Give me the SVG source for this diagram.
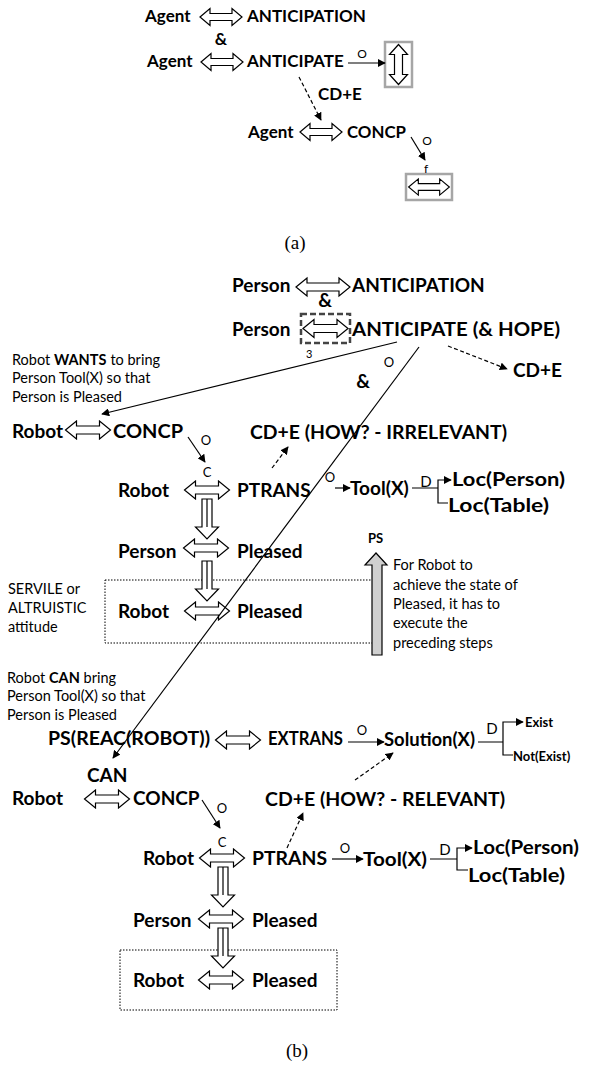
<svg xmlns="http://www.w3.org/2000/svg" xmlns:xlink="http://www.w3.org/1999/xlink" width="590" height="1066" viewBox="0 0 590 1066">
<style>
.b{font-family:Lato,"Liberation Sans",sans-serif;font-weight:bold;fill:#000}
.ba{font-size:17px}
.bb{font-size:19px}
.r{font-family:Lato,"Liberation Sans",sans-serif;font-weight:normal;fill:#000}
.note{font-size:14.5px}
.sm{font-size:13px}
.cap{font-family:"Liberation Serif",serif;font-size:19px;fill:#000}
.dbl{fill:#fff;stroke:#000;stroke-width:1.2;stroke-linejoin:miter}
.ln{fill:none;stroke:#000;stroke-width:1.2}
.dash{fill:none;stroke:#000;stroke-width:1.2;stroke-dasharray:4,2.5}
.dot{fill:none;stroke:#000;stroke-width:1;stroke-dasharray:1.5,1.5}
.gbox{fill:#fff;stroke:#a6a6a6;stroke-width:2.5}
</style>
<defs>
<marker id="ah" viewBox="0 0 10 10" refX="9" refY="5" markerWidth="8" markerHeight="8" markerUnits="userSpaceOnUse" orient="auto">
<path d="M0,0 L10,5 L0,10 Z" fill="#000"/>
</marker>
<path id="d45" class="dbl" d="M-22.5,0 L-11.5,-9 L-11.5,-4 L11.5,-4 L11.5,-9 L22.5,0 L11.5,9 L11.5,4 L-11.5,4 L-11.5,9 Z"/>
<path id="d42" class="dbl" d="M-21,0 L-11,-8.5 L-11,-3.5 L11,-3.5 L11,-8.5 L21,0 L11,8.5 L11,3.5 L-11,3.5 L-11,8.5 Z"/>
<path id="d54" class="dbl" d="M-27,0 L-16,-9 L-16,-4 L16,-4 L16,-9 L27,0 L16,9 L16,4 L-16,4 L-16,9 Z"/>
<path id="v40" class="dbl" d="M0,-20 L9,-10 L4,-10 L4,10 L9,10 L0,20 L-9,10 L-4,10 L-4,-10 L-9,-10 Z"/>
<path id="down" class="dbl" d="M-5,0 H5 V28 H11.5 L0,40 L-11.5,28 H-5 Z M0,0 V28"/>
</defs>

<!-- (a) -->
<g id="a-agent1">
<text class="b ba" x="145" y="22">Agent</text>
<use xlink:href="#d42" transform="translate(221,17)"/>
<text class="b ba" x="247" y="22">ANTICIPATION</text>
</g>
<g id="a-and"><text class="b ba" x="221" y="45" text-anchor="middle">&amp;</text></g>
<g id="a-agent2">
<text class="b ba" x="147" y="67">Agent</text>
<use xlink:href="#d42" transform="translate(222,62)"/>
<text class="b ba" x="247" y="67">ANTICIPATE</text>
</g>
<g id="a-box1">
<rect class="gbox" x="385" y="42" width="27" height="45"/>
<use xlink:href="#v40" transform="translate(398.5,64.5)"/>
</g>
<g id="a-cde"><text class="b ba" x="318" y="100">CD+E</text></g>
<g id="a-agent3">
<text class="b ba" x="248" y="138">Agent</text>
<use xlink:href="#d42" transform="translate(321,132)"/>
<text class="b ba" x="347" y="138" textLength="59" lengthAdjust="spacingAndGlyphs">CONCP</text>
</g>
<g id="a-box2">
<rect class="gbox" x="406" y="174" width="46" height="26"/>
<use xlink:href="#d42" transform="translate(429,187) scale(0.97,0.95)"/>
</g>
<g id="a-labels">
<text class="r" font-size="12" x="362" y="58" text-anchor="middle">O</text>
<text class="r" font-size="12" x="427" y="145" text-anchor="middle">O</text>
<text class="r" font-size="12" x="426" y="173" text-anchor="middle">f</text>
</g>
<text class="cap" x="295" y="249" text-anchor="middle">(a)</text>

<!-- (b) top -->
<g id="b-person1">
<text class="b bb" x="232" y="292">Person</text>
<use xlink:href="#d54" transform="translate(323,287)"/>
<text class="b bb" x="352" y="292">ANTICIPATION</text>
</g>
<g id="b-and1"><text class="b bb" x="325" y="307" text-anchor="middle">&amp;</text></g>
<g id="b-person2">
<text class="b bb" x="232" y="336">Person</text>
<rect x="301" y="314" width="49" height="29" fill="none" stroke="#444" stroke-width="2.5" stroke-dasharray="6,3"/>
<use xlink:href="#d45" transform="translate(325.5,328.5)"/>
<text class="b bb" x="352" y="336" textLength="208" lengthAdjust="spacingAndGlyphs">ANTICIPATE (&amp; HOPE)</text>
<text class="r" font-size="11" x="306" y="358">3</text>
</g>
<g id="b-cde1"><text class="b bb" x="513" y="377">CD+E</text></g>
<g id="b-and2"><text class="b bb" x="363" y="388" text-anchor="middle">&amp;</text></g>
<g id="b-wants">
<text class="r note" x="12" y="365">Robot <tspan font-weight="bold">WANTS</tspan><tspan dx="4">to bring</tspan></text>
<text class="r note" x="12" y="383">Person Tool(X) so that</text>
<text class="r note" x="12" y="402">Person is Pleased</text>
</g>
<g id="b-robot-concp1">
<text class="b bb" x="12" y="438">Robot</text>
<use xlink:href="#d45" transform="translate(88,430)"/>
<text class="b bb" x="113" y="438" textLength="70" lengthAdjust="spacingAndGlyphs">CONCP</text>
</g>
<g id="b-cde2"><text class="b bb" x="250" y="439" textLength="257" lengthAdjust="spacingAndGlyphs">CD+E (HOW? - IRRELEVANT)</text></g>
<g id="b-robot-ptrans1">
<text class="b bb" x="118" y="497">Robot</text>
<use xlink:href="#d45" transform="translate(207,490)"/>
<text class="b bb" x="237" y="497">PTRANS</text>
</g>
<g id="b-tool1">
<text class="b bb" x="350" y="495">Tool(X)</text>
<text class="b bb" x="452" y="486" textLength="113" lengthAdjust="spacingAndGlyphs">Loc(Person)</text>
<text class="b bb" x="448" y="512" textLength="101" lengthAdjust="spacingAndGlyphs">Loc(Table)</text>
</g>
<g id="b-person-pleased1">
<text class="b bb" x="118" y="558">Person</text>
<use xlink:href="#d45" transform="translate(206,548)"/>
<text class="b bb" x="237" y="558">Pleased</text>
</g>
<g id="b-robot-pleased1">
<rect class="dot" x="105" y="580" width="275" height="63"/>
<text class="b bb" x="118" y="618">Robot</text>
<use xlink:href="#d45" transform="translate(207,611)"/>
<text class="b bb" x="237" y="618">Pleased</text>
</g>
<g id="b-servile">
<text class="r note" x="8" y="594">SERVILE or</text>
<text class="r note" x="8" y="613">ALTRUISTIC</text>
<text class="r note" x="8" y="632">attitude</text>
</g>
<g id="b-ps">
<text class="b" font-size="13" x="368" y="543">PS</text>
<path d="M372,655 V565 H365 L376,553 L387,565 H382 V655 Z" fill="#d0d0d0" stroke="#000" stroke-width="1.2"/>
<text class="r note" x="393" y="570">For Robot to</text>
<text class="r note" x="393" y="590">achieve the state of</text>
<text class="r note" x="393" y="609">Pleased, it has to</text>
<text class="r note" x="393" y="628">execute the</text>
<text class="r note" x="393" y="648">preceding steps</text>
</g>

<!-- (b) bottom -->
<g id="b-can-note">
<text class="r note" x="7" y="683">Robot <tspan font-weight="bold">CAN</tspan> bring</text>
<text class="r note" x="7" y="701">Person Tool(X) so that</text>
<text class="r note" x="7" y="720">Person is Pleased</text>
</g>
<g id="b-ps-extrans">
<text class="b bb" x="48" y="745" textLength="162" lengthAdjust="spacingAndGlyphs">PS(REAC(ROBOT))</text>
<use xlink:href="#d45" transform="translate(238,740)"/>
<text class="b bb" x="268" y="745" textLength="75" lengthAdjust="spacingAndGlyphs">EXTRANS</text>
</g>
<g id="b-solution"><text class="b bb" x="384" y="746" textLength="91" lengthAdjust="spacingAndGlyphs">Solution(X)</text></g>
<g id="b-exist">
<text class="b" font-size="13" x="525" y="727">Exist</text>
<text class="b" font-size="13" x="513" y="761">Not(Exist)</text>
</g>
<g id="b-can"><text class="b bb" x="87" y="782">CAN</text></g>
<g id="b-robot-concp2">
<text class="b bb" x="12" y="805">Robot</text>
<use xlink:href="#d45" transform="translate(107,799)"/>
<text class="b bb" x="133" y="805">CONCP</text>
</g>
<g id="b-cde3"><text class="b bb" x="265" y="806" textLength="240" lengthAdjust="spacingAndGlyphs">CD+E (HOW? - RELEVANT)</text></g>
<g id="b-robot-ptrans2">
<text class="b bb" x="143" y="865">Robot</text>
<use xlink:href="#d45" transform="translate(222,858)"/>
<text class="b bb" x="252" y="865" textLength="75" lengthAdjust="spacingAndGlyphs">PTRANS</text>
</g>
<g id="b-tool2">
<text class="b bb" x="363" y="866" textLength="64" lengthAdjust="spacingAndGlyphs">Tool(X)</text>
<text class="b bb" x="473" y="854" textLength="106" lengthAdjust="spacingAndGlyphs">Loc(Person)</text>
<text class="b bb" x="468" y="882" textLength="97" lengthAdjust="spacingAndGlyphs">Loc(Table)</text>
</g>
<g id="b-person-pleased2">
<text class="b bb" x="133" y="927">Person</text>
<use xlink:href="#d45" transform="translate(221,919)"/>
<text class="b bb" x="252" y="927">Pleased</text>
</g>
<g id="b-robot-pleased2">
<rect class="dot" x="120" y="950" width="217" height="60"/>
<text class="b bb" x="133" y="987">Robot</text>
<use xlink:href="#d45" transform="translate(221,980)"/>
<text class="b bb" x="252" y="987">Pleased</text>
</g>
<text class="cap" x="297" y="1057" text-anchor="middle">(b)</text>

<g id="connectors">
<!-- (a) -->
<line class="ln" x1="348" y1="63" x2="385" y2="63" marker-end="url(#ah)"/>
<line class="dash" x1="299" y1="77" x2="321" y2="120" marker-end="url(#ah)"/>
<line class="ln" x1="411" y1="137" x2="425" y2="160" marker-end="url(#ah)"/>
<!-- (b) top -->
<line class="ln" x1="397" y1="342" x2="102" y2="414" marker-end="url(#ah)"/>
<line class="ln" x1="419" y1="347" x2="113" y2="758" marker-end="url(#ah)"/>
<line class="dash" x1="448" y1="346" x2="507" y2="369" marker-end="url(#ah)"/>
<line class="ln" x1="188" y1="437" x2="205" y2="462" marker-end="url(#ah)"/>
<line class="dash" x1="272" y1="468" x2="288" y2="447" marker-end="url(#ah)"/>
<line class="ln" x1="335" y1="488" x2="350" y2="488" marker-end="url(#ah)"/>
<path class="ln" d="M412,488 H438 M448,503 H438 V480 H451" marker-end="url(#ah)"/>
<use xlink:href="#down" transform="translate(207,499)"/>
<use xlink:href="#down" transform="translate(207,561)"/>
<!-- (b) bottom -->
<line class="ln" x1="348" y1="742" x2="384" y2="742" marker-end="url(#ah)"/>
<path class="ln" d="M478,742 H503 M513,755 H503 V722 H523" marker-end="url(#ah)"/>
<line class="dash" x1="355" y1="780" x2="393" y2="753" marker-end="url(#ah)"/>
<line class="ln" x1="202" y1="800" x2="220" y2="828" marker-end="url(#ah)"/>
<line class="dash" x1="287" y1="848" x2="303" y2="813" marker-end="url(#ah)"/>
<line class="ln" x1="332" y1="859" x2="363" y2="859" marker-end="url(#ah)"/>
<path class="ln" d="M430,859 H457 M468,870 H457 V848 H472" marker-end="url(#ah)"/>
<use xlink:href="#down" transform="translate(223,867)"/>
<use xlink:href="#down" transform="translate(223,928)"/>
</g>
<g id="edge-labels">
<text class="r sm" x="389" y="367" text-anchor="middle">O</text>
<text class="r sm" x="206" y="445" text-anchor="middle">O</text>
<text class="r sm" x="207" y="477" text-anchor="middle">C</text>
<text class="r sm" x="330" y="482" text-anchor="middle">O</text>
<text class="r" font-size="15" x="426" y="487" text-anchor="middle">D</text>
<text class="r sm" x="362" y="735" text-anchor="middle">O</text>
<text class="r" font-size="15" x="492" y="734" text-anchor="middle">D</text>
<text class="r sm" x="222" y="813" text-anchor="middle">O</text>
<text class="r sm" x="222" y="847" text-anchor="middle">C</text>
<text class="r sm" x="345" y="853" text-anchor="middle">O</text>
<text class="r" font-size="15" x="445" y="855" text-anchor="middle">D</text>
</g>
</svg>
